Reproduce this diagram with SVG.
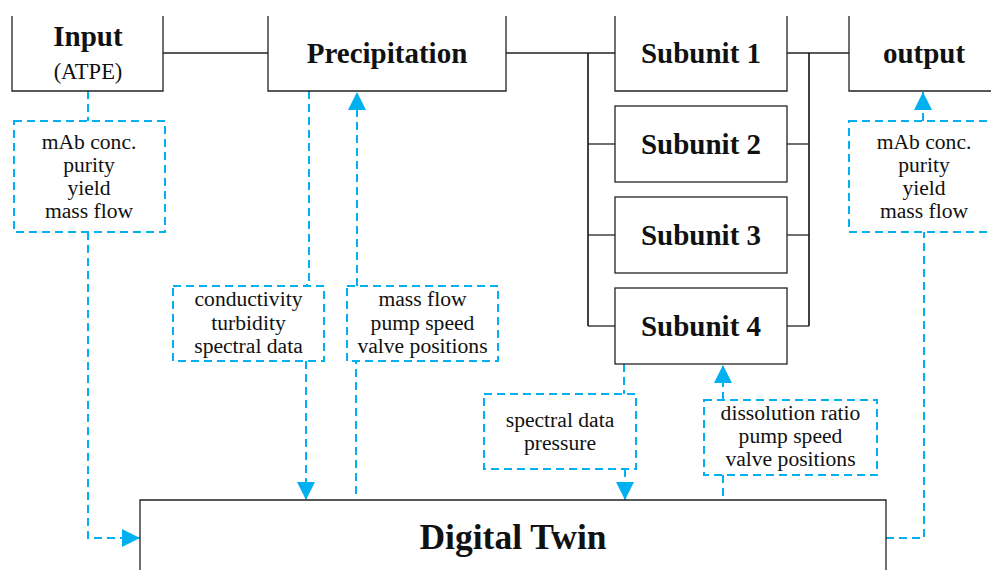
<svg xmlns="http://www.w3.org/2000/svg" width="991" height="570" viewBox="0 0 991 570">
<style>
.box{fill:#fff;stroke:#222;stroke-width:1.3}
.ln{fill:none;stroke:#222;stroke-width:1.3}
.bus{fill:none;stroke:#111;stroke-width:1.6}
.dash{fill:none;stroke:#00B0F0;stroke-width:2;stroke-dasharray:8,5}
.dbox{fill:#fff;stroke:#00B0F0;stroke-width:2;stroke-dasharray:8,5}
.t{font-size:21.6px;fill:#111;text-anchor:middle}
.s{font-size:22.5px;fill:#111;text-anchor:middle}
.h{font-size:29px;font-weight:bold;fill:#111;text-anchor:middle}
.big{font-size:35.5px;font-weight:bold;fill:#111;text-anchor:middle}
.arr{fill:#00B0F0}
</style>
<defs>
<marker id="ah" markerUnits="userSpaceOnUse" markerWidth="20" markerHeight="20" refX="18" refY="9" orient="auto">
<path d="M0,0 L18,9 L0,18 Z" class="arr"/>
</marker>
</defs>
<g id="connectors">
<line class="ln" x1="163" y1="53" x2="268" y2="53"/>
<line class="ln" x1="506" y1="53" x2="615" y2="53"/>
<line class="bus" x1="588" y1="53" x2="588" y2="326"/>
<line class="ln" x1="588" y1="144" x2="615" y2="144"/>
<line class="ln" x1="588" y1="235" x2="615" y2="235"/>
<line class="ln" x1="588" y1="326" x2="615" y2="326"/>
<line class="ln" x1="787" y1="53" x2="849" y2="53"/>
<line class="bus" x1="809" y1="53" x2="809" y2="326"/>
<line class="ln" x1="787" y1="144" x2="809" y2="144"/>
<line class="ln" x1="787" y1="235" x2="809" y2="235"/>
<line class="ln" x1="787" y1="326" x2="809" y2="326"/>
<polyline class="dash" points="88,91 88,121"/>
<polyline class="dash" points="88,232 88,538 140,538" marker-end="url(#ah)"/>
<polyline class="dash" points="309,91 309,280 307,280 307,286"/>
<polyline class="dash" points="306,361 306,500" marker-end="url(#ah)"/>
<polyline class="dash" points="357,286 357,92" marker-end="url(#ah)"/>
<polyline class="dash" points="356,494 356,361"/>
<polyline class="dash" points="624,364 624,394"/>
<polyline class="dash" points="625,469 625,500" marker-end="url(#ah)"/>
<polyline class="dash" points="723,400 723,365" marker-end="url(#ah)"/>
<polyline class="dash" points="723,475 723,500"/>
<polyline class="dash" points="923,121 923,92" marker-end="url(#ah)"/>
<polyline class="dash" points="886,538 924,538 924,232"/>
</g>
<g font-family="Liberation Serif, serif">
<g id="input">
<path class="box" d="M12,16 V91 H163 V16"/>
<text class="h" x="88" y="46">Input</text>
<text class="s" x="88" y="79">(ATPE)</text>
</g>
<g id="precipitation">
<path class="box" d="M268,16 V91 H506 V16"/>
<text class="h" x="387" y="63">Precipitation</text>
</g>
<g id="subunit1">
<path class="box" d="M615,16 V91 H787 V16"/>
<text class="h" x="701" y="63">Subunit 1</text>
</g>
<g id="subunit2">
<rect class="box" x="615" y="106" width="172" height="76"/>
<text class="h" x="701" y="154">Subunit 2</text>
</g>
<g id="subunit3">
<rect class="box" x="615" y="197" width="172" height="76"/>
<text class="h" x="701" y="245">Subunit 3</text>
</g>
<g id="subunit4">
<rect class="box" x="615" y="288" width="172" height="76"/>
<text class="h" x="701" y="336">Subunit 4</text>
</g>
<g id="output">
<path class="box" d="M849,16 V91 H1000"/>
<text class="h" x="924" y="63">output</text>
</g>
<g id="digital-twin">
<path class="box" d="M140,580 V500 H886 V580"/>
<text class="big" x="513" y="549">Digital Twin</text>
</g>
<g id="input-data">
<rect class="dbox" x="14" y="121" width="151" height="111"/>
<text class="t" x="89" y="149">mAb conc.</text>
<text class="t" x="89" y="172">purity</text>
<text class="t" x="89" y="195">yield</text>
<text class="t" x="89" y="218">mass flow</text>
</g>
<g id="output-data">
<rect class="dbox" x="849" y="121" width="150" height="111"/>
<text class="t" x="924" y="149">mAb conc.</text>
<text class="t" x="924" y="172">purity</text>
<text class="t" x="924" y="195">yield</text>
<text class="t" x="924" y="218">mass flow</text>
</g>
<g id="precip-sensors">
<rect class="dbox" x="173" y="286" width="151" height="75"/>
<text class="t" x="248.5" y="306">conductivity</text>
<text class="t" x="248.5" y="330">turbidity</text>
<text class="t" x="248.5" y="353">spectral data</text>
</g>
<g id="precip-actuators">
<rect class="dbox" x="347" y="286" width="151" height="75"/>
<text class="t" x="422.5" y="306">mass flow</text>
<text class="t" x="422.5" y="330">pump speed</text>
<text class="t" x="422.5" y="353">valve positions</text>
</g>
<g id="subunit-sensors">
<rect class="dbox" x="484" y="394" width="152" height="75"/>
<text class="t" x="560" y="427">spectral data</text>
<text class="t" x="560" y="450">pressure</text>
</g>
<g id="subunit-actuators">
<rect class="dbox" x="704" y="400" width="173" height="75"/>
<text class="t" x="790.5" y="420">dissolution ratio</text>
<text class="t" x="790.5" y="443">pump speed</text>
<text class="t" x="790.5" y="466">valve positions</text>
</g>
</g>
</svg>
